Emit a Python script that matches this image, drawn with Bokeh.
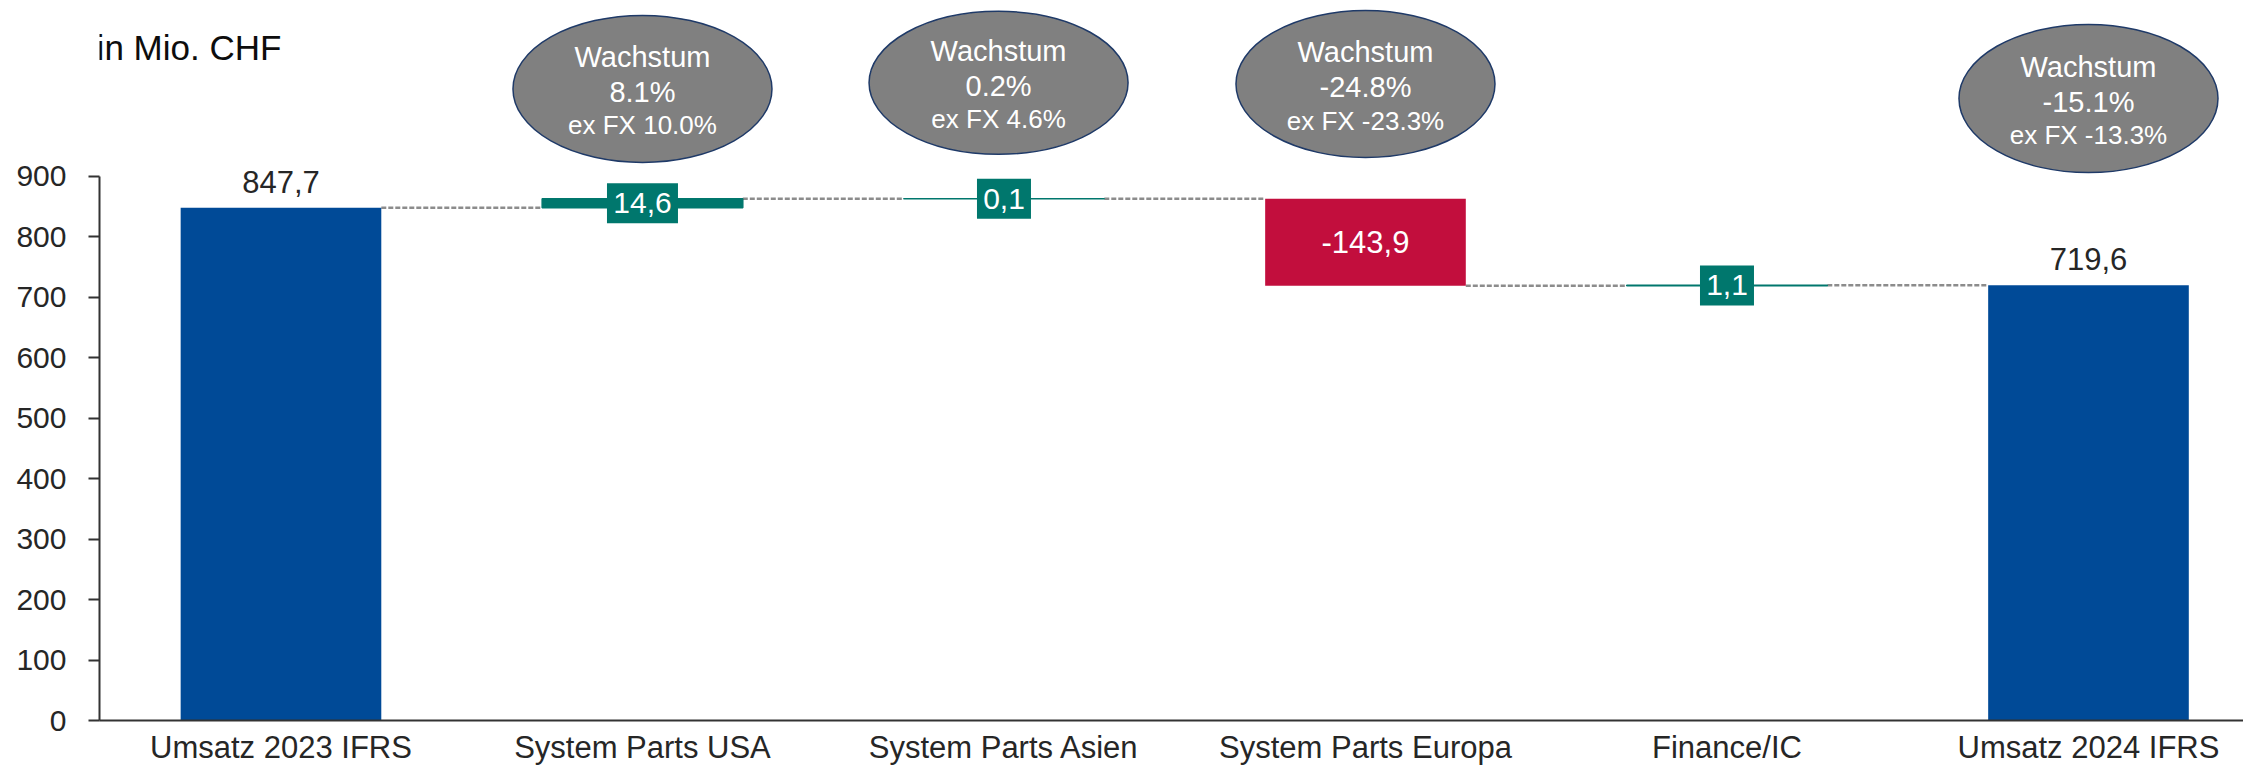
from bokeh.plotting import figure
from bokeh.models import Range1d, FixedTicker, Label, ColumnDataSource
from bokeh.core.properties import value
from bokeh.embed import file_html
from bokeh.resources import INLINE

# ---------------- data ----------------
categories = ["Umsatz 2023 IFRS", "System Parts USA", "System Parts Asien",
              "System Parts Europa", "Finance/IC", "Umsatz 2024 IFRS"]
start_total = 847.7
changes = [14.6, 0.1, -143.9, 1.1]
end_total = 719.6
total_labels = ["847,7", "719,6"]
change_labels = ["14,6", "0,1", "-143,9", "1,1"]
y_ticks = [0, 100, 200, 300, 400, 500, 600, 700, 800, 900]

growth_cat = [1, 2, 3, 5]
growth_title = ["Wachstum", "Wachstum", "Wachstum", "Wachstum"]
growth_pct = ["8.1%", "0.2%", "-24.8%", "-15.1%"]
growth_exfx = ["ex FX 10.0%", "ex FX 4.6%", "ex FX -23.3%", "ex FX -13.3%"]

# ---------------- styles / layout ----------------
BLUE = "#004A97"
TEAL = "#00776D"
RED = "#C20E3D"
GREY_BUBBLE = "#808080"
BUBBLE_LINE = "#1F3A68"
AXIS = "#333333"
TXT = "#262626"
FONT = "Liberation Sans"
BAR_W = 0.555

# label box sizes (screen px) for the positive change labels
label_box_w = [71, 54, 0, 54]
LABEL_BOX_H = 40

bubble_dx = [0.0, -0.015, 0.0, 0.0]
bubble_y = [1044, 1054, 1052, 1028]
bubble_h = [147, 143, 147, 148]
bubble_w = 259

# ---------------- derived bar geometry ----------------
xs = list(range(len(categories)))
bottoms, tops, colors, lws = [0.0], [start_total], [BLUE], [0]
levels = [start_total]
run = start_total
for c in changes:
    nxt = run + c
    bottoms.append(min(run, nxt))
    tops.append(max(run, nxt))
    colors.append(TEAL if c >= 0 else RED)
    lws.append(1.5 if c >= 0 else 0)
    run = nxt
    levels.append(run)
bottoms.append(0.0)
tops.append(end_total)
colors.append(BLUE)
lws.append(0)

src = ColumnDataSource(dict(x=xs, bottom=bottoms, top=tops, color=colors, lw=lws))

p = figure(width=2243, height=775,
           x_range=Range1d(-0.502, 5.4288), y_range=Range1d(0, 1190.1),
           output_backend="svg", toolbar_location=None,
           min_border_left=99, min_border_right=0, min_border_top=0, min_border_bottom=55)
p.outline_line_color = None
p.grid.visible = False
p.background_fill_color = "white"
p.border_fill_color = "white"

# y axis
ya = p.yaxis[0]
ya.ticker = FixedTicker(ticks=y_ticks)
ya.bounds = (0, 900)
ya.major_tick_out = 11
ya.major_tick_in = 0
ya.minor_tick_out = 0
ya.minor_tick_in = 0
ya.axis_line_width = 2
ya.major_tick_line_width = 2
ya.axis_line_color = AXIS
ya.major_tick_line_color = AXIS
ya.major_label_text_font = FONT
ya.major_label_text_font_size = "30px"
ya.major_label_text_color = TXT
ya.major_label_standoff = 22

# x axis
xa = p.xaxis[0]
xa.ticker = FixedTicker(ticks=xs)
xa.major_label_overrides = {i: c for i, c in zip(xs, categories)}
xa.major_tick_out = 0
xa.major_tick_in = 0
xa.minor_tick_out = 0
xa.minor_tick_in = 0
xa.axis_line_width = 2
xa.axis_line_color = AXIS
xa.major_label_text_font = FONT
xa.major_label_text_font_size = "31px"
xa.major_label_text_color = TXT
xa.major_label_standoff = 9

# connectors
cx0 = [i + BAR_W / 2 for i in xs[:-1]]
cx1 = [i + 1 - BAR_W / 2 for i in xs[:-1]]
p.segment(x0=cx0, y0=levels, x1=cx1, y1=levels, line_color="#8C8C8C",
          line_width=2.5, line_dash="5 2")

# bars
p.vbar(x="x", width=BAR_W, bottom="bottom", top="top", fill_color="color",
       line_color="color", line_width="lw", source=src)

# totals labels
p.text(x=[xs[0], xs[-1]], y=[start_total, end_total], text=total_labels,
       text_align="center", text_baseline="middle", y_offset=-26,
       text_font=value(FONT), text_font_size="31px", text_color=TXT)

# change labels (teal boxes for increases, plain text inside the red bar)
pos_x, pos_y, pos_w, pos_t = [], [], [], []
neg_x, neg_y, neg_t = [], [], []
for i, (c, lab) in enumerate(zip(changes, change_labels)):
    xi = xs[i + 1]
    mid = (bottoms[i + 1] + tops[i + 1]) / 2
    if c >= 0:
        pos_x.append(xi); pos_y.append(mid); pos_w.append(label_box_w[i]); pos_t.append(lab)
    else:
        neg_x.append(xi); neg_y.append(mid); neg_t.append(lab)

p.rect(x=pos_x, y=pos_y, width=pos_w, height=LABEL_BOX_H, width_units="screen",
       height_units="screen", fill_color=TEAL, line_color=None)
p.text(x=pos_x, y=pos_y, text=pos_t, text_align="center", text_baseline="middle",
       text_font=value(FONT), text_font_size="30px", text_color="white")
p.text(x=neg_x, y=neg_y, text=neg_t, text_align="center", text_baseline="middle",
       text_font=value(FONT), text_font_size="31px", text_color="white")

# growth bubbles
bx = [c + d for c, d in zip(growth_cat, bubble_dx)]
p.ellipse(x=bx, y=bubble_y, width=bubble_w, height=bubble_h, width_units="screen",
          height_units="screen", fill_color=GREY_BUBBLE, line_color=BUBBLE_LINE, line_width=1.5)
p.text(x=bx, y=bubble_y, text=growth_title, text_align="center", text_baseline="middle",
       y_offset=-32, text_font=value(FONT), text_font_size="29px", text_color="white")
p.text(x=bx, y=bubble_y, text=growth_pct, text_align="center", text_baseline="middle",
       y_offset=3, text_font=value(FONT), text_font_size="29px", text_color="white")
p.text(x=bx, y=bubble_y, text=growth_exfx, text_align="center", text_baseline="middle",
       y_offset=36.5, text_font=value(FONT), text_font_size="26px", text_color="white")

# unit title
p.add_layout(Label(x=-0.51, y=1112, text="in Mio. CHF", text_align="left",
                   text_baseline="middle", text_font=FONT, text_font_size="35px",
                   text_color="#0D0D0D"))

open("out.html", "w").write(file_html(p, INLINE))
